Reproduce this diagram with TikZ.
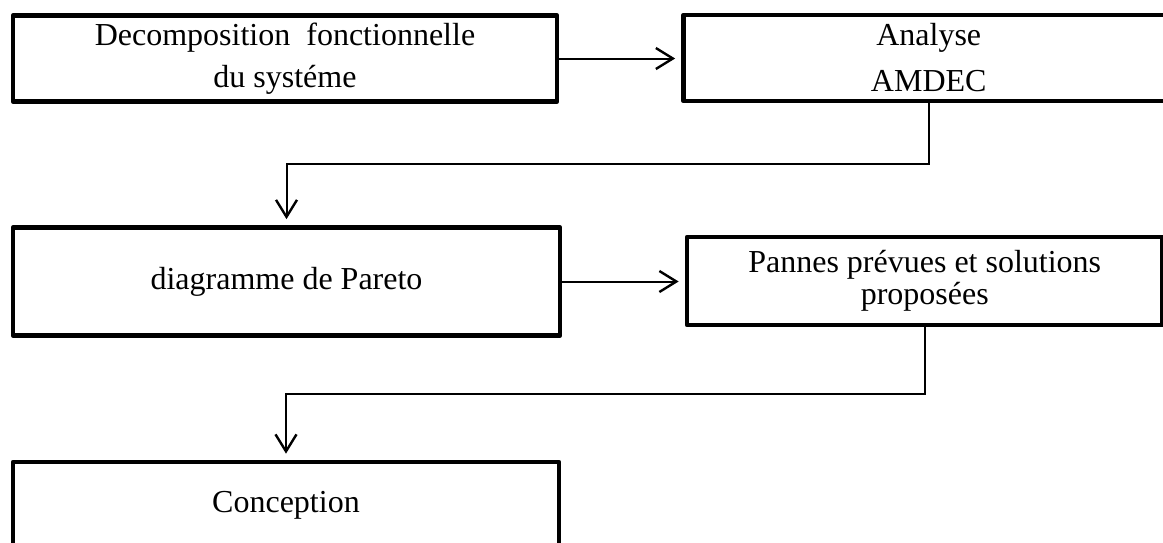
\documentclass[tikz,border=0pt]{standalone}
\usepackage{fontspec}
\setmainfont{Liberation Serif}
\usetikzlibrary{arrows.meta}
\begin{document}
\begin{tikzpicture}[x=1pt,y=-1pt,
  stagebox/.style={draw, rectangle, line width=4.7pt, line join=round,
    inner sep=0pt, align=center, font=\fontsize{32}{32}\selectfont},
  flow/.style={line width=2pt,
    -{Straight Barb[length=17pt,width=21pt,line width=2.4pt]},
    shorten >=6pt}]
\useasboundingbox (0,0) rectangle (1163,542);

% process stages
\node[stagebox, minimum width=544pt, minimum height=86pt] (decomp) at (285,58.5)
  {Decomposition~ fonctionnelle\\[10pt]du systéme};
\node[stagebox, minimum width=490.5pt, minimum height=86pt] (amdec) at (928.75,58)
  {Analyse\\[14pt]AMDEC};
\node[stagebox, minimum width=547pt, minimum height=108pt] (pareto) at (286.5,281.5)
  {diagramme de Pareto};
\node[stagebox, minimum width=475.5pt, minimum height=88pt] (pannes) at (924.75,281)
  {Pannes prévues et solutions\\proposées};
\node[stagebox, minimum width=546pt, minimum height=86pt] (concept) at (286,505)
  {Conception};

% levels of the return lines
\coordinate (ret1) at (0,163.5);
\coordinate (ret2) at (0,393.5);

% connectors
\draw[flow] (decomp.east) -- (decomp.east -| amdec.west);
\draw[flow] (amdec.south) -- (amdec.south |- ret1) -| (pareto.north);
\draw[flow] (pareto.east) -- (pareto.east -| pannes.west);
\draw[flow] (pannes.south) -- (pannes.south |- ret2) -| (concept.north);
\end{tikzpicture}
\end{document}
